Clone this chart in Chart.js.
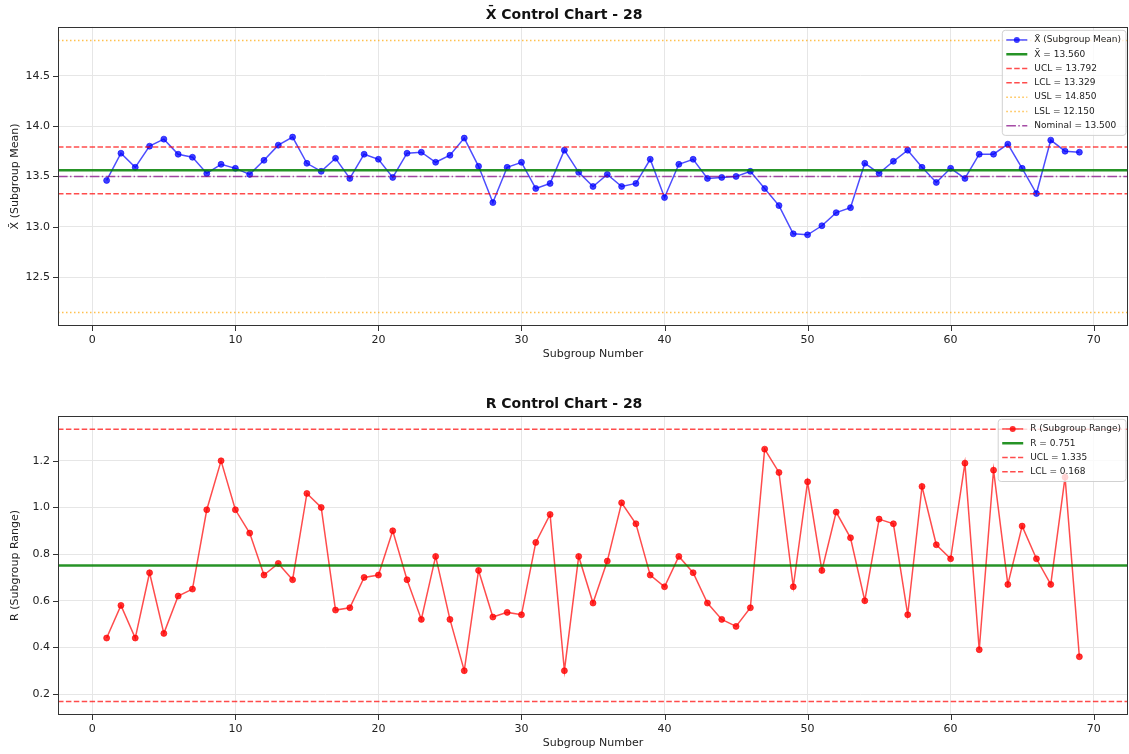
<!DOCTYPE html>
<html>
<head>
<meta charset="utf-8">
<script src="https://cdn.jsdelivr.net/npm/chart.js@4"></script>
<style>
  html, body { margin: 0; padding: 0; background: #fff; }
  .wrap { position: relative; width: 1129px; height: 377px; }
</style>
</head>
<body>
<div class="wrap"><canvas id="xbarChart"></canvas></div>
<div class="wrap"><canvas id="rangeChart"></canvas></div>
<script>
// X-bar and R control charts for part 28, drawn matplotlib-style.

// Subgroup means (X-bar), subgroups 1..69
const xbarValues = [
  13.46, 13.73, 13.59, 13.80, 13.87, 13.72, 13.69, 13.53, 13.62, 13.58,
  13.52, 13.66, 13.81, 13.89, 13.63, 13.55, 13.68, 13.48, 13.72, 13.67,
  13.49, 13.73, 13.74, 13.64, 13.71, 13.88, 13.60, 13.24, 13.59, 13.64,
  13.38, 13.43, 13.76, 13.54, 13.40, 13.52, 13.40, 13.43, 13.67, 13.29,
  13.62, 13.67, 13.48, 13.49, 13.50, 13.55, 13.38, 13.21, 12.93, 12.92,
  13.01, 13.14, 13.19, 13.63, 13.53, 13.65, 13.76, 13.59, 13.44, 13.58,
  13.48, 13.72, 13.72, 13.82, 13.58, 13.33, 13.86, 13.75, 13.74,
];

// Subgroup ranges (R)
const rangeValues = [
  0.44, 0.58, 0.44, 0.72, 0.46, 0.62, 0.65, 0.99, 1.20, 0.99,
  0.89, 0.71, 0.76, 0.69, 1.06, 1.00, 0.56, 0.57, 0.70, 0.71,
  0.90, 0.69, 0.52, 0.79, 0.52, 0.30, 0.73, 0.53, 0.55, 0.54,
  0.85, 0.97, 0.30, 0.79, 0.59, 0.77, 1.02, 0.93, 0.71, 0.66,
  0.79, 0.72, 0.59, 0.52, 0.49, 0.57, 1.25, 1.15, 0.66, 1.11,
  0.73, 0.98, 0.87, 0.60, 0.95, 0.93, 0.54, 1.09, 0.84, 0.78,
  1.19, 0.39, 1.16, 0.67, 0.92, 0.78, 0.67, 1.13, 0.36,
];

const subgroups = xbarValues.map((_, i) => i + 1);

// Control / spec limits
const xbarCenter = 13.560;
const xbarUCL = 13.792;
const xbarLCL = 13.329;
const xbarUSL = 14.850;
const xbarLSL = 12.150;
const xbarNominal = 13.500;

const rangeCenter = 0.751;
const rangeUCL = 1.335;
const rangeLCL = 0.168;

// Axis bounds and tick labels
const xRange = [-2.4, 72.4];
const xTicks = [0, 10, 20, 30, 40, 50, 60, 70];
const xbarYRange = [12.015, 14.985];
const xbarYTicks = [12.5, 13.0, 13.5, 14.0, 14.5];
const rangeYRange = [0.110, 1.393];
const rangeYTicks = [0.2, 0.4, 0.6, 0.8, 1.0, 1.2];

const FONT = '"DejaVu Sans", "Liberation Sans", sans-serif';
const TEXT = '#222';

function seriesData(values) {
  return values.map((v, i) => ({ x: subgroups[i], y: v }));
}

function hline(label, value, color, width, dash) {
  return {
    label: label,
    data: [{ x: xRange[0], y: value }, { x: xRange[1], y: value }],
    borderColor: color,
    borderWidth: width,
    borderDash: dash,
    pointRadius: 0,
    order: 0,
  };
}

const DASHED = [5.5, 2.4];
const DOTTED = [1.5, 2.5];
const DASHDOT = [9.6, 2.4, 1.5, 2.4];

// draws the full box around the plot and dark outward tick marks
const mplFrame = {
  id: 'mplFrame',
  afterDraw(chart) {
    const { ctx, chartArea: a } = chart;
    const xs = chart.scales.x;
    const ys = chart.scales.y;
    ctx.save();
    ctx.strokeStyle = '#333';
    ctx.lineWidth = 1;
    ctx.beginPath();
    xs.ticks.forEach((t) => {
      const px = Math.round(xs.getPixelForValue(t.value)) + 0.5;
      ctx.moveTo(px, a.bottom);
      ctx.lineTo(px, a.bottom + 5);
    });
    ys.ticks.forEach((t) => {
      const py = Math.round(ys.getPixelForValue(t.value)) + 0.5;
      ctx.moveTo(a.left - 5, py);
      ctx.lineTo(a.left, py);
    });
    ctx.stroke();
    ctx.strokeRect(Math.round(a.left) + 0.5, Math.round(a.top) + 0.5,
      Math.round(a.width) - 1, Math.round(a.height) - 1);
    ctx.restore();
  },
};

// matplotlib-like legend in the upper right corner
const mplLegend = {
  id: 'mplLegend',
  afterDraw(chart) {
    const { ctx, chartArea: a } = chart;
    const items = chart.data.datasets;
    const rowH = 14.3;
    ctx.save();
    ctx.font = '9px ' + FONT;
    const textW = Math.max(...items.map((d) => ctx.measureText(d.label).width));
    const w = 32 + textW + 5;
    const h = items.length * rowH + 5;
    const x0 = a.right - 2 - w;
    const y0 = a.top + 3.5;
    ctx.beginPath();
    ctx.roundRect(x0, y0, w, h, 3);
    ctx.fillStyle = 'rgba(255,255,255,0.8)';
    ctx.fill();
    ctx.strokeStyle = 'rgba(204,204,204,0.9)';
    ctx.lineWidth = 1;
    ctx.stroke();
    items.forEach((d, i) => {
      const cy = y0 + 2.5 + rowH * (i + 0.5);
      ctx.beginPath();
      ctx.setLineDash(d.borderDash || []);
      ctx.strokeStyle = d.borderColor;
      ctx.lineWidth = d.borderWidth;
      ctx.moveTo(x0 + 4, cy);
      ctx.lineTo(x0 + 25, cy);
      ctx.stroke();
      ctx.setLineDash([]);
      if (d.pointRadius > 0) {
        ctx.beginPath();
        ctx.arc(x0 + 14.5, cy, d.pointRadius, 0, Math.PI * 2);
        ctx.fillStyle = d.pointBackgroundColor;
        ctx.fill();
      }
      ctx.fillStyle = TEXT;
      ctx.textBaseline = 'middle';
      ctx.fillText(d.label, x0 + 32, cy);
    });
    ctx.restore();
  },
};

function makeOptions(title, yLabel, yRange, yTicks, padTop, padBottom) {
  return {
    responsive: true,
    maintainAspectRatio: false,
    animation: false,
    layout: {
      autoPadding: false,
      padding: { top: padTop, right: 1, bottom: padBottom, left: 0 },
    },
    plugins: {
      legend: { display: false },
      tooltip: { enabled: false },
      title: {
        display: true,
        text: title,
        color: '#111',
        font: { family: FONT, size: 14, weight: 'bold' },
        padding: { top: 7, bottom: 3 },
      },
    },
    elements: { line: { tension: 0 } },
    scales: {
      x: {
        type: 'linear',
        min: xRange[0],
        max: xRange[1],
        afterBuildTicks: (s) => { s.ticks = xTicks.map((v) => ({ value: v })); },
        afterFit: (s) => {
          s.height = 35;
          s.paddingLeft = 0;
          s.paddingRight = 0;
        },
        ticks: {
          autoSkip: false, maxRotation: 0, padding: 8, color: TEXT,
          font: { family: FONT, size: 11 },
          callback: (v) => String(v),
        },
        grid: { color: '#e6e6e6', drawTicks: false },
        border: { display: false },
        title: {
          display: true, text: 'Subgroup Number', color: TEXT,
          font: { family: FONT, size: 11 }, padding: { top: 0, bottom: 0 },
        },
      },
      y: {
        type: 'linear',
        min: yRange[0],
        max: yRange[1],
        afterBuildTicks: (s) => { s.ticks = yTicks.map((v) => ({ value: v })); },
        afterFit: (s) => { s.width = 58; },
        ticks: {
          padding: 8, color: TEXT,
          font: { family: FONT, size: 11 },
          callback: (v) => v.toFixed(1),
        },
        grid: { color: '#e6e6e6', drawTicks: false },
        border: { display: false },
        title: {
          display: true, text: yLabel, color: TEXT,
          font: { family: FONT, size: 11 }, padding: { top: 8.4, bottom: 0 },
        },
      },
    },
  };
}

new Chart(document.getElementById('xbarChart'), {
  type: 'line',
  data: {
    datasets: [
      {
        label: 'X\u0304 (Subgroup Mean)',
        data: seriesData(xbarValues),
        borderColor: 'rgba(0,0,255,0.7)',
        borderWidth: 1.5,
        pointRadius: 3,
        pointBorderWidth: 0.8,
        pointBackgroundColor: 'rgba(0,0,255,0.75)',
        pointBorderColor: 'rgba(0,0,255,0.75)',
        order: 1,
      },
      hline('X\u0304 = ' + xbarCenter.toFixed(3), xbarCenter, 'rgba(0,128,0,0.85)', 2.5, []),
      hline('UCL = ' + xbarUCL.toFixed(3), xbarUCL, 'rgba(255,0,0,0.7)', 1.5, DASHED),
      hline('LCL = ' + xbarLCL.toFixed(3), xbarLCL, 'rgba(255,0,0,0.7)', 1.5, DASHED),
      hline('USL = ' + xbarUSL.toFixed(3), xbarUSL, 'rgba(255,165,0,0.7)', 1.5, DOTTED),
      hline('LSL = ' + xbarLSL.toFixed(3), xbarLSL, 'rgba(255,165,0,0.7)', 1.5, DOTTED),
      hline('Nominal = ' + xbarNominal.toFixed(3), xbarNominal, 'rgba(128,0,128,0.7)', 1.5, DASHDOT),
    ],
  },
  options: makeOptions('X\u0304 Control Chart - 28', 'X\u0304 (Subgroup Mean)', xbarYRange, xbarYTicks, 0, 16),
  plugins: [mplFrame, mplLegend],
});

new Chart(document.getElementById('rangeChart'), {
  type: 'line',
  data: {
    datasets: [
      {
        label: 'R (Subgroup Range)',
        data: seriesData(rangeValues),
        borderColor: 'rgba(255,0,0,0.7)',
        borderWidth: 1.5,
        pointRadius: 3,
        pointBorderWidth: 0.8,
        pointBackgroundColor: 'rgba(255,0,0,0.8)',
        pointBorderColor: 'rgba(255,0,0,0.8)',
        order: 1,
      },
      hline('R = ' + rangeCenter.toFixed(3), rangeCenter, 'rgba(0,128,0,0.85)', 2.5, []),
      hline('UCL = ' + rangeUCL.toFixed(3), rangeUCL, 'rgba(255,0,0,0.7)', 1.5, DASHED),
      hline('LCL = ' + rangeLCL.toFixed(3), rangeLCL, 'rgba(255,0,0,0.7)', 1.5, DASHED),
    ],
  },
  options: makeOptions('R Control Chart - 28', 'R (Subgroup Range)', rangeYRange, rangeYTicks, 12, 4),
  plugins: [mplFrame, mplLegend],
});
</script>
</body>
</html>
